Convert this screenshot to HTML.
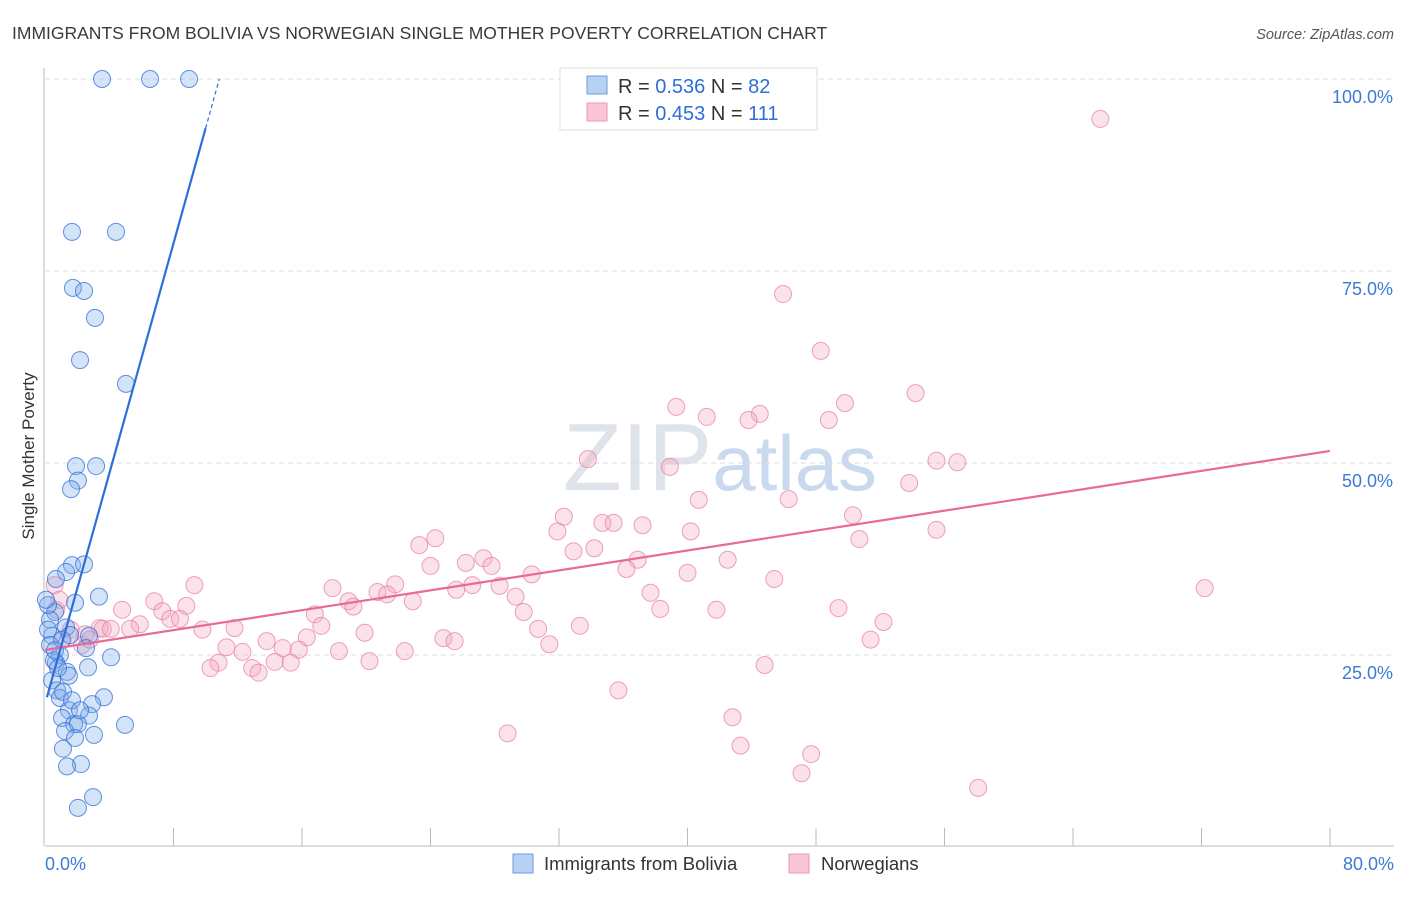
<!DOCTYPE html>
<html><head><meta charset="utf-8"><style>
body{margin:0;background:#fff;font-family:"Liberation Sans",sans-serif}
svg text{font-family:"Liberation Sans",sans-serif}
</style></head><body>
<svg id="c" width="1406" height="892" xmlns="http://www.w3.org/2000/svg">
<text x="12" y="39" font-size="17.5" fill="#3a3a3a">IMMIGRANTS FROM BOLIVIA VS NORWEGIAN SINGLE MOTHER POVERTY CORRELATION CHART</text>
<text x="1394" y="39" font-size="14.5" fill="#555" text-anchor="end" font-style="italic">Source: ZipAtlas.com</text>
<text x="720" y="490" font-size="96" fill="#dfe3ea" text-anchor="middle" font-family="Liberation Serif">ZIP<tspan fill="#c9d9ee" font-family="Liberation Sans" font-size="78">atlas</tspan></text>
<g id="grid"></g><g id="axes"></g><g id="pts"></g><g id="lines"></g>
<text transform="translate(34,456) rotate(-90)" font-size="17" fill="#333" text-anchor="middle">Single Mother Poverty</text>
<g>
<rect x="560" y="68" width="257" height="62" fill="#fff" stroke="#ddd"/>
<rect x="587" y="76" width="20" height="18" fill="#b7d1f3" stroke="#6a9be0"/>
<rect x="587" y="103" width="20" height="18" fill="#f8c6d5" stroke="#e89ab3"/>
<text x="618" y="93" font-size="20" fill="#333">R = <tspan fill="#2f6fd6">0.536</tspan>   N = <tspan fill="#2f6fd6">82</tspan></text>
<text x="618" y="120" font-size="20" fill="#333">R = <tspan fill="#2f6fd6">0.453</tspan>   N = <tspan fill="#2f6fd6">111</tspan></text>
</g>
<g>
<rect x="513" y="854" width="20" height="19" fill="#b7d1f3" stroke="#6a9be0"/>
<text x="544" y="870" font-size="18.5" fill="#333">Immigrants from Bolivia</text>
<rect x="789" y="854" width="20" height="19" fill="#f8c6d5" stroke="#e89ab3"/>
<text x="821" y="870" font-size="18.5" fill="#333">Norwegians</text>
</g>
</svg>
<script>
const yTicks=[25,50,75,100];
const xTickLabels=["0.0%","80.0%"];
const blueX=[3.55,6.54,8.97,1.68,4.42,1.74,2.43,3.11,2.18,5.04,1.93,3.18,2.05,1.62,1.68,2.43,1.31,0.68,3.36,1.87,0.62,0.31,1.31,0.44,2.74,2.55,0.93,4.11,0.68,2.68,1.37,1.49,0.44,0.75,0.93,3.67,2.93,1.49,2.74,1.06,1.81,2.05,4.98,1.25,3.05,1.87,1.12,2.24,1.37,2.99,2.05,0.19,0.19,0.31,0.56,0.81,1.06,1.56,0.06,0.62,1.12,1.68,2.18];
const blueY=[100,100,100,80.1,80.1,72.8,72.4,68.9,63.4,60.3,49.6,49.6,47.7,46.6,36.7,36.8,35.8,34.9,32.6,31.8,30.6,29.6,28.6,27.5,27.5,25.9,25.0,24.7,24.0,23.4,22.8,22.3,21.7,20.4,19.4,19.5,18.6,17.8,17.1,16.8,16.0,16.0,15.9,15.1,14.6,14.2,12.8,10.8,10.5,6.5,5.1,31.5,28.3,26.3,24.3,23.3,27.0,27.6,32.2,25.6,20.2,19.1,17.8];
const pinkX=[65.7,45.95,48.3,54.2,39.3,41.2,44.5,43.8,49.8,48.8,33.8,38.9,55.5,56.8,53.8,40.7,46.3,32.3,50.3,34.7,35.4,37.2,31.9,40.2,55.5,24.3,23.3,32.9,34.2,50.7,24.0,26.2,27.3,27.8,36.9,42.5,36.2,30.3,40.0,45.4,72.2,9.3,17.9,26.6,28.3,21.8,20.7,21.3,22.9,25.6,29.3,37.7,18.9,19.2,8.8,4.8,6.8,7.3,16.8,29.8,38.3,41.8,49.4,7.8,8.4,5.9,3.4,3.6,5.3,4.1,9.8,11.8,17.2,33.3,30.7,52.2,19.9,24.8,25.5,1.1,2.5,2.3,16.3,13.8,11.3,14.8,15.8,31.4,51.4,12.3,18.3,22.4,10.8,10.3,14.3,15.3,20.2,12.9,13.3,44.8,0.6,35.7,28.8,42.8,43.3,47.7,47.1,58.1,0.7,1.6,2.8,0.9];
const pinkY=[94.8,72.0,64.6,59.1,57.3,56.0,56.4,55.6,57.8,55.6,50.5,49.5,50.3,50.1,47.4,45.2,45.3,43.0,43.2,42.2,42.2,41.9,41.1,41.1,41.3,40.2,39.3,38.5,38.9,40.1,36.6,37.0,37.6,36.6,37.4,37.4,36.2,35.5,35.7,34.9,33.7,34.1,33.7,34.1,34.0,34.2,33.2,32.9,32.0,33.5,32.6,33.1,32.0,31.3,31.4,30.9,32.0,30.7,30.3,30.6,31.0,30.9,31.1,29.7,29.7,29.0,28.5,28.4,28.4,28.4,28.3,28.5,28.8,28.8,28.4,29.3,27.9,27.2,26.8,27.0,27.7,26.3,27.3,26.8,26.0,25.9,25.7,26.4,27.0,25.4,25.5,25.5,24.0,23.3,24.1,24.0,24.2,23.3,22.7,23.7,34.1,20.4,14.8,16.9,13.2,12.1,9.6,7.7,30.9,28.3,27.0,32.2];
const blueLine=[18.6,7.5]; // intercept, slope
const pinkLine=[25.65,0.324];
const X=v=>45+v/80*1285, Y=v=>847-v/100*768;
const NS="http://www.w3.org/2000/svg";
function mk(t,a,p){const e=document.createElementNS(NS,t);for(const k in a)e.setAttribute(k,a[k]);document.getElementById(p).appendChild(e);return e;}
yTicks.forEach(t=>{
 const g=mk('line',{x1:45,x2:1394,y1:Y(t),y2:Y(t),stroke:'#ddd','stroke-dasharray':'5,4'},'grid');
 
 
 const l=mk('text',{x:1393,y:Y(t)+24,'font-size':18,fill:'#3d7ad6','text-anchor':'end'},'axes');
 l.textContent=t.toFixed(1)+'%';
 
 
});
const ax=mk('line',{x1:45,x2:1394,y1:846,y2:846,stroke:'#bbb'},'axes');


const ay=mk('line',{x1:44,x2:44,y1:68,y2:846,stroke:'#bbb'},'axes');


for(let i=1;i<=10;i++){const t=mk('line',{x1:X(i*8),x2:X(i*8),y1:828,y2:846,stroke:'#bbb'},'axes');
 
 }
[[0,'start',45],[80,'end',1394]].forEach((d,i)=>{const t=mk('text',{x:d[2],y:870,'font-size':18,fill:'#3d7ad6','text-anchor':d[1]},'axes');
 t.textContent=xTickLabels[i];
 
 });
pinkX.forEach((x,i)=>{const c=mk('circle',{cx:X(x),cy:Y(pinkY[i]),r:8.5,fill:'rgba(244,170,195,0.35)',stroke:'rgba(232,130,165,0.75)','stroke-width':1},'pts');
 
 });
blueX.forEach((x,i)=>{const c=mk('circle',{cx:X(x),cy:Y(blueY[i]),r:8.5,fill:'rgba(130,175,235,0.35)',stroke:'rgba(50,110,215,0.75)','stroke-width':1},'pts');
 
 });
const pl=mk('line',{x1:X(0),y1:Y(pinkLine[0]),x2:X(80),y2:Y(pinkLine[0]+pinkLine[1]*80),stroke:'#e86a96','stroke-width':2.2},'lines');


const bx0=0.12,bx1=10,bx2=(100-blueLine[0])/blueLine[1];
const bl=mk('line',{x1:X(bx0),y1:Y(blueLine[0]+blueLine[1]*bx0),x2:X(bx1),y2:Y(blueLine[0]+blueLine[1]*bx1),stroke:'#2d6fd8','stroke-width':2.2},'lines');


const bd=mk('line',{x1:X(bx1),y1:Y(blueLine[0]+blueLine[1]*bx1),x2:X(bx2),y2:Y(100),stroke:'#2d6fd8','stroke-width':1.2,'stroke-dasharray':'4,3'},'lines');


</script>
</body></html>
